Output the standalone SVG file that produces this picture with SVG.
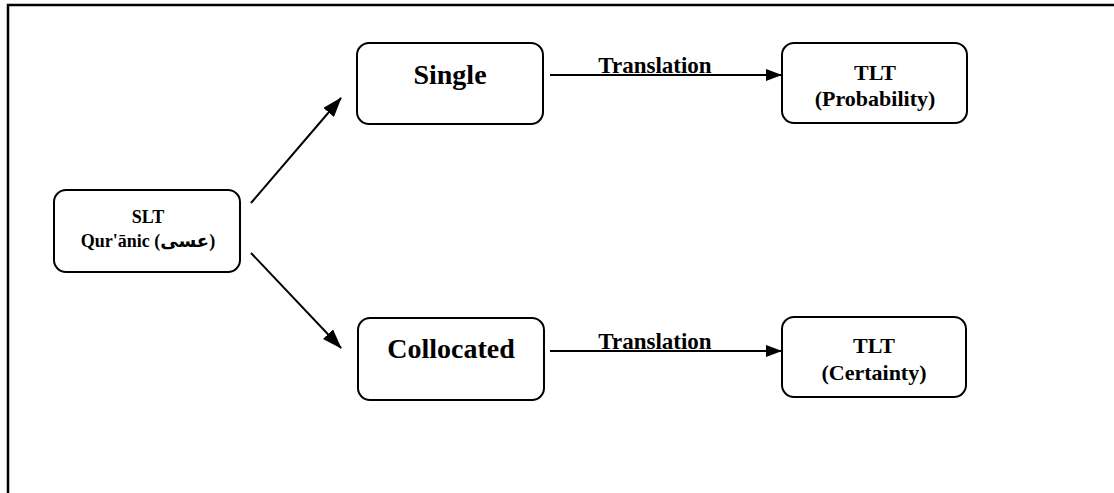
<svg xmlns="http://www.w3.org/2000/svg" width="1114" height="493" viewBox="0 0 1114 493">
<style>
.box{fill:#fff;stroke:#000;stroke-width:2}
.t{font-family:"Liberation Serif","Times New Roman",serif;font-weight:bold;fill:#000;text-anchor:middle}
.c{stroke:#000;stroke-width:2;fill:none}
</style>
<defs>
<marker id="ah" markerWidth="16" markerHeight="12" refX="15" refY="6" orient="auto" markerUnits="userSpaceOnUse">
<path d="M0,0 L16,6 L0,12 Z" fill="#000"/>
</marker>
<marker id="ah2" markerWidth="20" markerHeight="14" refX="19" refY="7" orient="auto" markerUnits="userSpaceOnUse">
<path d="M0,0 L20,7 L0,14 Z" fill="#000"/>
</marker>
</defs>
<rect width="1114" height="493" fill="#fff"/>
<path d="M8,493 L8,5 L1114,5" fill="none" stroke="#000" stroke-width="2.5"/>
<g id="connectors">
<line class="c" x1="251" y1="203" x2="341" y2="98" marker-end="url(#ah2)"/>
<line class="c" x1="251" y1="253" x2="341" y2="348" marker-end="url(#ah2)"/>
<line class="c" x1="550" y1="75" x2="781" y2="75" marker-end="url(#ah)"/>
<line class="c" x1="550" y1="351" x2="781" y2="351" marker-end="url(#ah)"/>
<text class="t" x="655" y="73" font-size="23">Translation</text>
<text class="t" x="655" y="349" font-size="23">Translation</text>
</g>
<g id="slt">
<rect class="box" x="54" y="190" width="186" height="82" rx="12"/>
<text class="t" x="148" y="223" font-size="18">SLT</text>
<text class="t" x="148" y="247" font-size="18">Qur'ānic (<tspan font-family="'DejaVu Sans','Noto Sans',sans-serif">عسى</tspan>)</text>
</g>
<g id="single">
<rect class="box" x="357" y="43" width="186" height="81" rx="12"/>
<text class="t" x="450" y="84" font-size="28">Single</text>
</g>
<g id="collocated">
<rect class="box" x="358" y="318" width="186" height="82" rx="12"/>
<text class="t" x="451" y="358" font-size="28">Collocated</text>
</g>
<g id="tlt-prob">
<rect class="box" x="782" y="43" width="185" height="80" rx="12"/>
<text class="t" x="875" y="80" font-size="22">TLT</text>
<text class="t" x="875" y="106" font-size="22">(Probability)</text>
</g>
<g id="tlt-cert">
<rect class="box" x="782" y="317" width="184" height="80" rx="12"/>
<text class="t" x="874" y="353" font-size="22">TLT</text>
<text class="t" x="874" y="380" font-size="22">(Certainty)</text>
</g>
</svg>
